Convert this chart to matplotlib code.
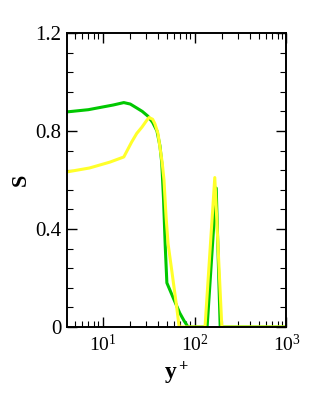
import numpy as np
import matplotlib
matplotlib.use("Agg")
import matplotlib.pyplot as plt
from matplotlib.ticker import LogLocator, LogFormatterMathtext, MultipleLocator, FormatStrFormatter

plt.rcParams['font.family'] = ['Liberation Serif', 'DejaVu Serif']
plt.rcParams['mathtext.fontset'] = 'custom'
plt.rcParams['mathtext.rm'] = 'Liberation Serif'
plt.rcParams['mathtext.it'] = 'Liberation Serif:italic'
plt.rcParams['mathtext.bf'] = 'Liberation Serif:bold'

# green curve
green_x = [4.1, 7, 10, 13, 17, 20, 23.5, 27, 31, 35, 39, 42, 44, 46, 48, 50,
           60, 69, 77, 85, 137, 172, 190, 1000]
green_s = [0.878, 0.887, 0.898, 0.906, 0.916, 0.910, 0.894, 0.880, 0.861, 0.835, 0.80, 0.74,
           0.67, 0.52, 0.33, 0.18, 0.11, 0.057, 0.025, 0.0, 0.0, 0.567, 0.0, 0.0]

# yellow curve
yellow_x = [4.1, 7.2, 12, 17, 20.7, 23.5, 26.8, 30, 32, 35, 37, 40, 42, 44.5, 46.5, 49,
            51.5, 57, 64, 68, 130, 166, 198, 1000]
yellow_s = [0.633, 0.649, 0.673, 0.694, 0.755, 0.790, 0.816, 0.842, 0.855, 0.848, 0.83, 0.79,
            0.735, 0.67, 0.60, 0.45, 0.34, 0.22, 0.08, 0.0, 0.0, 0.61, 0.0, 0.0]

fig = plt.figure(figsize=(3.14, 3.93), dpi=100)
ax = fig.add_axes([0.2134, 0.168, 0.699, 0.748])

ax.plot(green_x, green_s, color='#00c800', lw=2.2)
ax.plot(yellow_x, yellow_s, color='#ffff2a', lw=2.2)

ax.set_xscale('log')
ax.set_xlim(4.1, 1000)
ax.set_ylim(0, 1.2)

ax.xaxis.set_major_locator(LogLocator(base=10))
ax.xaxis.set_major_formatter(LogFormatterMathtext())
ax.xaxis.set_minor_locator(LogLocator(base=10, subs=np.arange(2, 10)))
ax.yaxis.set_major_locator(MultipleLocator(0.4))
ax.yaxis.set_minor_locator(MultipleLocator(0.08))
ax.yaxis.set_major_formatter(FormatStrFormatter('%g'))

ax.tick_params(which='both', direction='in', top=True, right=True, width=1.0)
ax.tick_params(which='major', length=7, pad=4)
ax.tick_params(axis='y', which='major', labelsize=15)
ax.tick_params(axis='x', which='major', labelsize=14, pad=5)
ax.tick_params(which='minor', length=4, width=0.8)
ax.tick_params(axis='x', which='minor', labelbottom=False)
for s in ax.spines.values():
    s.set_linewidth(1.4)

ax.set_xlabel(r'$\mathbf{y^+}$', fontsize=17, labelpad=3)
ax.set_ylabel('S', fontsize=16, fontweight='bold', labelpad=3)

fig.savefig('out.png', dpi=100)
